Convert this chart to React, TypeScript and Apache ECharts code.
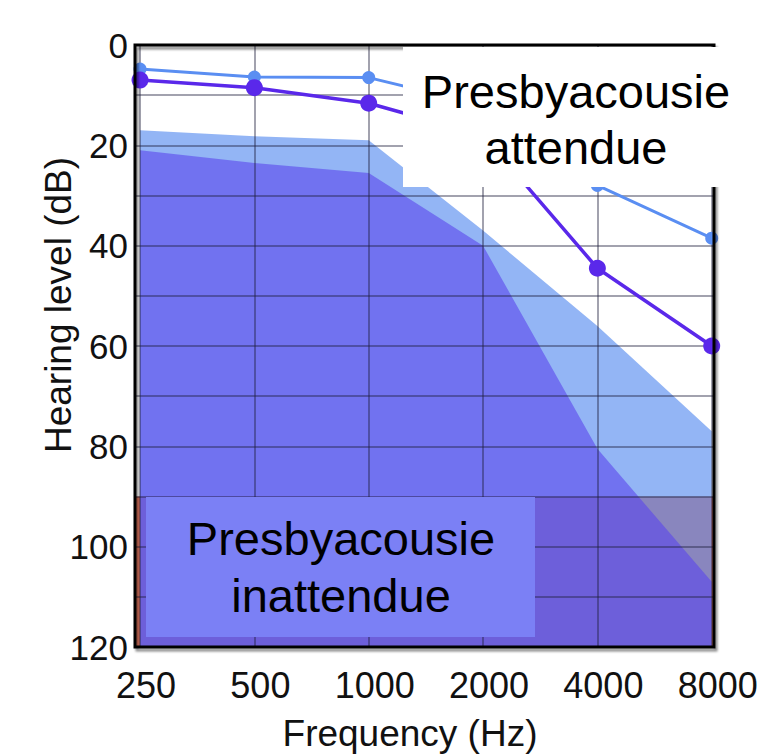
import React, { useEffect, useRef } from 'react';
import * as echarts from 'echarts';

const frequencies = ['250', '500', '1000', '2000', '4000', '8000'];
const yTickLabels = [0, 20, 40, 60, 80, 100, 120];
const expectedCurve = [4.8, 6.4, 6.5, 12, 28, 38.5];
const measuredCurve = [7, 8.5, 11.6, 18, 44.5, 60];
const lightZoneTop = [17, 18.2, 19, 37, 56, 77];
const darkZoneTop = [21, 23.5, 25.5, 40, 80.5, 107];
const severeBand = [90, 120];
const topLabel = 'Presbyacousie\nattendue';
const bottomLabel = 'Presbyacousie\ninattendue';
const xName = 'Frequency (Hz)';
const yName = 'Hearing level (dB)';

const FONT = "'Liberation Sans', Arial, Helvetica, sans-serif";
const pts = (arr: number[]) => arr.map((v, i) => [i, v]);

export default function App() {
  const ref = useRef<HTMLDivElement>(null);
  useEffect(() => {
    if (!ref.current) return;
    const chart = echarts.init(ref.current, undefined, { renderer: 'svg' });
    const option: any = {
      animation: false,
      backgroundColor: '#ffffff',
      textStyle: { fontFamily: FONT },
      grid: { left: 135, right: 59, top: 45, bottom: 107, containLabel: false },
      xAxis: {
        type: 'value',
        min: -0.044,
        max: 5.02,
        z: 3,
        axisLine: { show: false },
        axisTick: { show: false },
        splitLine: { show: true, lineStyle: { color: 'rgba(30,30,60,0.55)', width: 1.5 } },
        axisLabel: {
          fontFamily: FONT,
          fontSize: 36,
          color: '#111',
          margin: 20,
          padding: [0, 0, 0, 12],
          showMinLabel: true,
          showMaxLabel: true,
          formatter: (v: number) => (Number.isInteger(v) && v >= 0 && v < frequencies.length ? frequencies[v] : ''),
        },
      },
      yAxis: {
        type: 'value',
        inverse: true,
        min: 0,
        max: 120,
        interval: 10,
        z: 3,
        axisLine: { show: false },
        axisTick: { show: false },
        splitLine: { show: true, lineStyle: { color: 'rgba(30,30,60,0.55)', width: 1.5 } },
        axisLabel: {
          fontFamily: FONT,
          fontSize: 35,
          color: '#111',
          margin: 7,
          padding: [0, 0, 8, 0],
          formatter: (v: number) => (yTickLabels.includes(v) ? String(v) : ''),
        },
      },
      series: [
        {
          name: 'band',
          type: 'line',
          z: 1,
          data: [[0, severeBand[1]]],
          symbol: 'none',
          lineStyle: { width: 0 },
          silent: true,
          markArea: {
            silent: true,
            itemStyle: { color: '#e0765e', opacity: 1 },
            data: [[{ yAxis: severeBand[0] }, { yAxis: severeBand[1] }]],
          },
        },
        {
          name: 'light zone',
          type: 'line',
          z: 2,
          data: pts(lightZoneTop),
          symbol: 'none',
          lineStyle: { width: 0 },
          areaStyle: { origin: 'end', color: '#5b8ff0', opacity: 0.66 },
        },
        {
          name: 'dark zone',
          type: 'line',
          z: 2,
          data: pts(darkZoneTop),
          symbol: 'none',
          lineStyle: { width: 0 },
          areaStyle: { origin: 'end', color: '#5a46ec', opacity: 0.6 },
        },
        {
          name: 'expected',
          type: 'line',
          z: 5,
          data: pts(expectedCurve),
          symbol: 'circle',
          symbolSize: 13,
          lineStyle: { color: '#5a8ef2', width: 3 },
          itemStyle: { color: '#5a8ef2' },
        },
        {
          name: 'measured',
          type: 'line',
          z: 5,
          data: pts(measuredCurve),
          symbol: 'circle',
          symbolSize: 17,
          lineStyle: { color: '#5a28ea', width: 3.5 },
          itemStyle: { color: '#5a28ea' },
        },
      ],
      graphic: [
        {
          type: 'rect',
          z: 10,
          shape: { x: 135, y: 45, width: 579, height: 602 },
          style: {
            fill: 'none',
            stroke: '#000',
            lineWidth: 3,
            shadowColor: 'rgba(0,0,0,0.45)',
            shadowOffsetX: 2,
            shadowOffsetY: 3,
            shadowBlur: 2,
          },
        },
        {
          type: 'rect',
          z: 11,
          shape: { x: 403, y: 47, width: 340, height: 140 },
          style: { fill: '#ffffff' },
        },
        {
          type: 'text',
          z: 12,
          x: 576,
          y: 119,
          style: {
            text: topLabel,
            fontFamily: FONT,
            fontSize: 47,
            lineHeight: 56,
            fill: '#000',
            align: 'center',
            verticalAlign: 'middle',
          },
        },
        {
          type: 'rect',
          z: 11,
          shape: { x: 146, y: 497, width: 389, height: 140 },
          style: { fill: '#7b80f5' },
        },
        {
          type: 'text',
          z: 12,
          x: 341,
          y: 567,
          style: {
            text: bottomLabel,
            fontFamily: FONT,
            fontSize: 47,
            lineHeight: 57,
            fill: '#000',
            align: 'center',
            verticalAlign: 'middle',
          },
        },
        {
          type: 'text',
          z: 12,
          x: 58,
          y: 305,
          rotation: Math.PI / 2,
          style: {
            text: yName,
            fontFamily: FONT,
            fontSize: 37,
            fill: '#111',
            align: 'center',
            verticalAlign: 'middle',
          },
        },
        {
          type: 'text',
          z: 12,
          x: 410,
          y: 733,
          style: {
            text: xName,
            fontFamily: FONT,
            fontSize: 37,
            fill: '#111',
            align: 'center',
            verticalAlign: 'middle',
          },
        },
      ],
    };
    chart.setOption(option);
    return () => chart.dispose();
  }, []);
  return (
    <div
      ref={ref}
      style={{ position: 'fixed', left: 0, top: 0, width: 773, height: 754 }}
    />
  );
}
